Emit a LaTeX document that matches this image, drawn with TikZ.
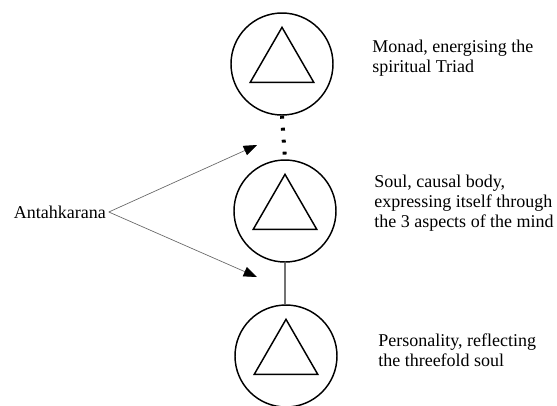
\documentclass[tikz,border=0pt]{standalone}
\usepackage{fontspec}
\setmainfont{Liberation Serif}
\usetikzlibrary{shapes.geometric,arrows.meta}

\begin{document}
\begin{tikzpicture}[x=0.75pt,y=-0.75pt,
    label/.style={align=left,anchor=west,inner sep=0pt,font=\fontsize{13.5}{15}\selectfont}]
\useasboundingbox (0,0) rectangle (557,405);
  \begin{scope}[every node/.style={draw,circle,line width=1.1pt,minimum size=76.5pt,inner sep=0pt}]
    \node at (282,64) (monad) {};
    \node at (285,211) (soul) {};
    \node at (286,356) (persona) {};
  \end{scope}
  \begin{scope}[every node/.style={draw,regular polygon,regular polygon sides=3,line width=1.1pt,minimum size=55pt,inner sep=0pt}]
    \node at (monad) (monadtri) {};
    \node at (soul) (soultri) {};
    \node at (persona) (personatri) {};
  \end{scope}

  \node [label] at (372,58) (monadtxt) {Monad, energising the\\spiritual Triad};
  \node [label] at (374,203) (soultxt) {Soul, causal body,\\expressing itself through\\the 3 aspects of the mind};
  \node [label] at (378,350) (personatxt) {Personality, reflecting\\the threefold soul};
  \node [label,inner sep=2pt] at (11,212) (antah) {Antahkarana};

  \coordinate (up) at (257,145);
  \coordinate (down) at (257,277);

  \draw [line width=3pt,dash pattern=on 2.2pt off 6.8pt] (monad.south) -- (soul.north);
  \draw [line width=1pt,black!55] (soul.south) -- (soul.south |- persona.north);
  \begin{scope}[every path/.style={draw,black!60,line width=0.5pt,-{Triangle[length=10pt,width=7.5pt,color=black]}}]
    \path (antah.east) -- (up);
    \path (antah.east) -- (down);
  \end{scope}
\end{tikzpicture}
\end{document}
